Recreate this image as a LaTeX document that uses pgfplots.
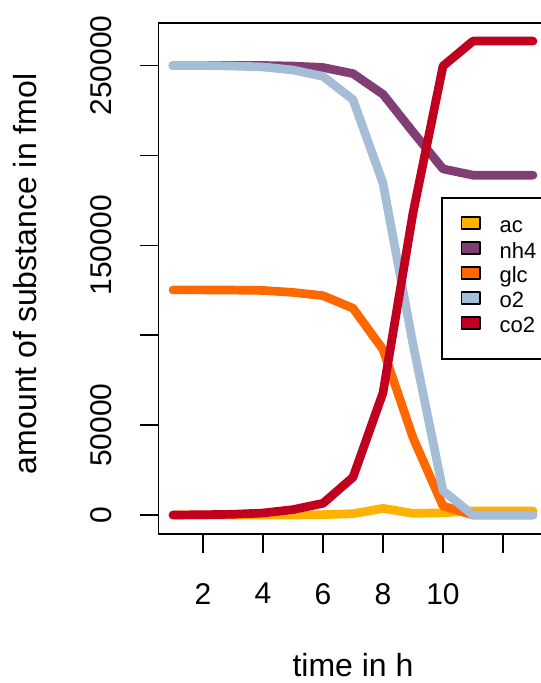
\documentclass[border=0pt]{standalone}
\usepackage{pgfplots}
\pgfplotsset{compat=1.18}
\usepackage{fontspec}
\setmainfont{Liberation Sans}
\definecolor{kac}{HTML}{FFB300}
\definecolor{knh}{HTML}{803E75}
\definecolor{kglc}{HTML}{FF6800}
\definecolor{ko}{HTML}{A6BDD7}
\definecolor{kco}{HTML}{C10020}
\begin{document}
\begin{tikzpicture}
\useasboundingbox (-158.6bp,-149bp) rectangle (382.4bp,534bp);
\clip (-158.6bp,-149bp) rectangle (382.4bp,534bp);
\begin{axis}[
  at={(0,0)}, anchor=south west,
  scale only axis,
  width=388.8bp, height=511bp,
  xmin=0.52, xmax=13.48,
  ymin=-10570, ymax=273650,
  axis line style={black, line width=1.6bp},
  tick style={black, line width=1.6bp},
  tick align=outside,
  major tick length=19bp,
  xtick pos=lower, ytick pos=left,
  xtick={2,4,6,8,10,12},
  xticklabels={2,4,6,8,10,},
  ytick={0,50000,100000,150000,200000,250000},
  yticklabels={0,50000,,150000,,250000},
  scaled y ticks=false,
  /pgf/number format/assume math mode=true,
  xticklabel style={font=\fontsize{30bp}{36bp}\selectfont, anchor=north, inner sep=0pt},
  yticklabel style={font=\fontsize{30bp}{36bp}\selectfont, rotate=90, anchor=south, inner sep=0pt},
  xticklabel shift=30bp,
  yticklabel shift=28bp,
  every axis x label/.style={at={(rel axis cs:0.5,-0.2330)}, anchor=north, inner sep=0pt, font=\fontsize{32bp}{38bp}\selectfont},
  every axis y label/.style={at={(rel axis cs:-0.3135,0.509)}, rotate=90, anchor=south, inner sep=0pt, font=\fontsize{32bp}{38bp}\selectfont},
  xlabel={time in h},
  ylabel={amount of substance in fmol},
  legend cell align=left,
  legend style={at={(rel axis cs:1,0.5)}, anchor=east, draw=black, line width=1.6bp, fill=white,
    inner xsep=19bp, inner ysep=18bp, row sep=0pt, column sep=19bp,
    font=\fontsize{22bp}{26bp}\selectfont,
    nodes={inner sep=0pt, text height=17bp, text depth=8bp, text width=28bp, align=left}},
  every axis plot/.append style={line width=8.7bp, line cap=round, line join=round, mark=none},
]
\addplot[kac, legend image code/.code={\draw[black, line width=1.2bp, fill=kac] (0bp,-0.5bp) rectangle (18.7bp,11.5bp);}] coordinates {
(1,0) (2,0) (3,0) (4,0) (5,0) (6,200) (7,700) (8,3700) (9,900) (10,1200) (11,2300) (12,2300) (13,2300)};
\addlegendentry{ac}
\addplot[knh, legend image code/.code={\draw[black, line width=1.2bp, fill=knh] (0bp,-0.5bp) rectangle (18.7bp,11.5bp);}] coordinates {
(1,250000) (2,250000) (3,250000) (4,250000) (5,249700) (6,248900) (7,245500) (8,234000) (9,213000) (10,192500) (11,189000) (12,189000) (13,189000)};
\addlegendentry{nh4}
\addplot[kglc, legend image code/.code={\draw[black, line width=1.2bp, fill=kglc] (0bp,-0.5bp) rectangle (18.7bp,11.5bp);}] coordinates {
(1,125200) (2,125200) (3,125100) (4,124900) (5,123800) (6,122000) (7,115000) (8,92000) (9,43000) (10,5000) (11,0) (12,0) (13,0)};
\addlegendentry{glc}
\addplot[ko, legend image code/.code={\draw[black, line width=1.2bp, fill=ko] (0bp,-0.5bp) rectangle (18.7bp,11.5bp);}] coordinates {
(1,250000) (2,250000) (3,249700) (4,249200) (5,247500) (6,244000) (7,231000) (8,184500) (9,95000) (10,13500) (11,0) (12,0) (13,0)};
\addlegendentry{o2}
\addplot[kco, legend image code/.code={\draw[black, line width=1.2bp, fill=kco] (0bp,-0.5bp) rectangle (18.7bp,11.5bp);}] coordinates {
(1,0) (2,150) (3,400) (4,1100) (5,3000) (6,6500) (7,21000) (8,68000) (9,168000) (10,249700) (11,263600) (12,263600) (13,263600)};
\addlegendentry{co2}
\end{axis}
\end{tikzpicture}
\end{document}
